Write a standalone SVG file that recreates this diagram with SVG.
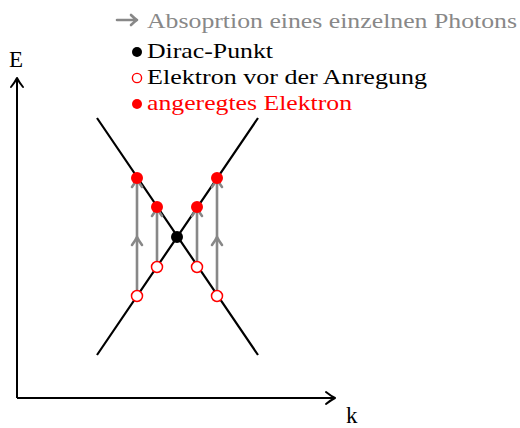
<svg xmlns="http://www.w3.org/2000/svg" width="520" height="428" viewBox="0 0 520 428">
<style>
text{font-family:'Liberation Serif','Times New Roman','DejaVu Serif',serif;font-size:22px}
.ax{stroke:#000;stroke-width:2;fill:none}
.band{stroke:#000;stroke-width:2.2;fill:none}
.ph{stroke:#888;stroke-width:2.6;fill:none}
.head{stroke-linecap:round;stroke-linejoin:round}
.ex{fill:#f00}
.gs{fill:#fff;stroke:#f00;stroke-width:1.5}
</style>
<rect width="520" height="428" fill="#fff"/>
<g id="axes">
<path class="ax" d="M17,398 V79 M17,398 H334"/>
<path class="ax head" d="M11,87 Q15,82 17,78 Q19,82 23,87"/>
<path class="ax head" d="M326,392 Q331,396 335,398 Q331,400 326,404"/>
<text x="9" y="67" style="font-size:23px">E</text>
<text x="346" y="423" style="font-size:23px">k</text>
</g>
<g id="bands">
<path class="band" d="M97,118 L258,355 M258,118 L97,355"/>
</g>
<g id="connectors">
<path class="ph" d="M137,296 V180 M157,267 V209 M197,267 V209 M217,296 V180"/>
<path class="ph head" d="M132,245 Q135,241 137,237 Q139,241 142,245 M132,187 Q135,183 137,179 Q139,183 142,187 M212,245 Q215,241 217,237 Q219,241 222,245 M212,187 Q215,183 217,179 Q219,183 222,187 M152,216 Q155,212 157,208 Q159,212 162,216 M192,216 Q195,212 197,208 Q199,212 202,216"/>
</g>
<g id="points">
<circle class="ex" cx="137" cy="178" r="6"/>
<circle class="ex" cx="157" cy="207" r="6"/>
<circle class="ex" cx="197" cy="207" r="6"/>
<circle class="ex" cx="217" cy="178" r="6"/>
<circle cx="177" cy="237" r="6" fill="#000"/>
<circle class="gs" cx="157" cy="267" r="5.5"/>
<circle class="gs" cx="137" cy="296" r="5.5"/>
<circle class="gs" cx="197" cy="267" r="5.5"/>
<circle class="gs" cx="217" cy="296" r="5.5"/>
</g>
<g id="legend">
<path class="ph head" d="M117,20 H137 M131,15 Q134,18 137,20 Q134,22 131,25" stroke-width="1.8"/>
<text x="147" y="28" fill="#888" textLength="370" lengthAdjust="spacingAndGlyphs">Absoprtion eines einzelnen Photons</text>
<circle cx="137" cy="52" r="5" fill="#000"/>
<text x="147" y="58" fill="#000" textLength="126" lengthAdjust="spacingAndGlyphs">Dirac-Punkt</text>
<circle cx="137" cy="78" r="4.6" fill="#fff" stroke="#f00" stroke-width="1.4"/>
<text x="147" y="84" fill="#000" textLength="280" lengthAdjust="spacingAndGlyphs">Elektron vor der Anregung</text>
<circle cx="137" cy="104" r="5" fill="#f00"/>
<text x="147" y="110" fill="#f00" textLength="205" lengthAdjust="spacingAndGlyphs">angeregtes Elektron</text>
</g>
</svg>
